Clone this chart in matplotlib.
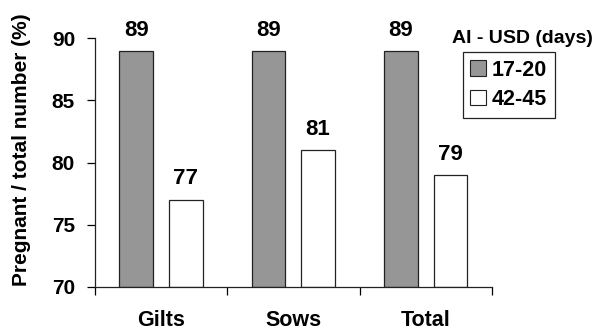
import numpy as np
import matplotlib.pyplot as plt
from matplotlib.patches import Patch

plt.rcParams['font.family'] = ['Liberation Sans', 'DejaVu Sans']
plt.rcParams['font.weight'] = 'bold'

groups = ['Gilts', 'Sows', 'Total']
early = [89, 89, 89]   # 17-20 days
late = [77, 81, 79]    # 42-45 days
series_names = ['17-20', '42-45']
legend_title = 'AI - USD (days)'

fig = plt.figure(figsize=(5.95, 3.31), dpi=100)
ax = fig.add_axes([0.160, 0.134, 0.667, 0.750])

x = np.arange(len(groups)) + 0.5
w = 0.255
b1 = ax.bar(x - 0.19, np.array(early) - 70, w, bottom=70, color='#969696',
            edgecolor='#222222', linewidth=0.9)
b2 = ax.bar(x + 0.185, np.array(late) - 70, w, bottom=70, color='white',
            edgecolor='#222222', linewidth=0.9)

for bars, vals in ((b1, early), (b2, late)):
    for r, v in zip(bars, vals):
        ax.annotate(str(v), (r.get_x() + r.get_width() / 2, v),
                    xytext=(0, 11), textcoords='offset points',
                    ha='center', va='baseline', fontsize=16, fontweight='bold')

ax.set_xlim(0, 3)
ax.set_ylim(70, 90)
ax.set_yticks([70, 75, 80, 85, 90])
ax.set_xticks([0, 1, 2, 3])
ax.set_xticklabels([])
ax.set_xticks(x, minor=True)
ax.set_xticklabels(groups, minor=True, fontsize=15.5, fontweight='bold')
ax.tick_params(axis='x', which='minor', length=0, pad=17)
ax.tick_params(axis='x', which='major', length=6, width=0.9, direction='out')
ax.tick_params(axis='y', length=6, width=0.9, direction='out', labelsize=15, pad=8.5)
for s in ('top', 'right'):
    ax.spines[s].set_visible(False)
for s in ('left', 'bottom'):
    ax.spines[s].set_linewidth(0.9)
    ax.spines[s].set_color('#222222')

ax.set_ylabel('Pregnant / total number (%)', fontsize=15, fontweight='bold',
              va='center')
ax.yaxis.set_label_coords(-0.186, 0.55)

handles = [Patch(facecolor='#969696', edgecolor='#222222', linewidth=0.8),
           Patch(facecolor='white', edgecolor='#222222', linewidth=0.8)]
leg = fig.legend(handles, series_names, loc='upper left',
                 bbox_to_anchor=(0.778, 0.843), prop={'size': 15.5, 'weight': 'bold'},
                 fancybox=False, edgecolor='#222222', framealpha=1,
                 handlelength=0.7, handleheight=0.7, handletextpad=0.3,
                 borderpad=0.35, labelspacing=0.4, borderaxespad=0)
leg.get_frame().set_linewidth(0.9)
fig.text(0.878, 0.885, legend_title, ha='center', va='center',
         fontsize=14, fontweight='bold')

fig.savefig('out.png', dpi=100)
